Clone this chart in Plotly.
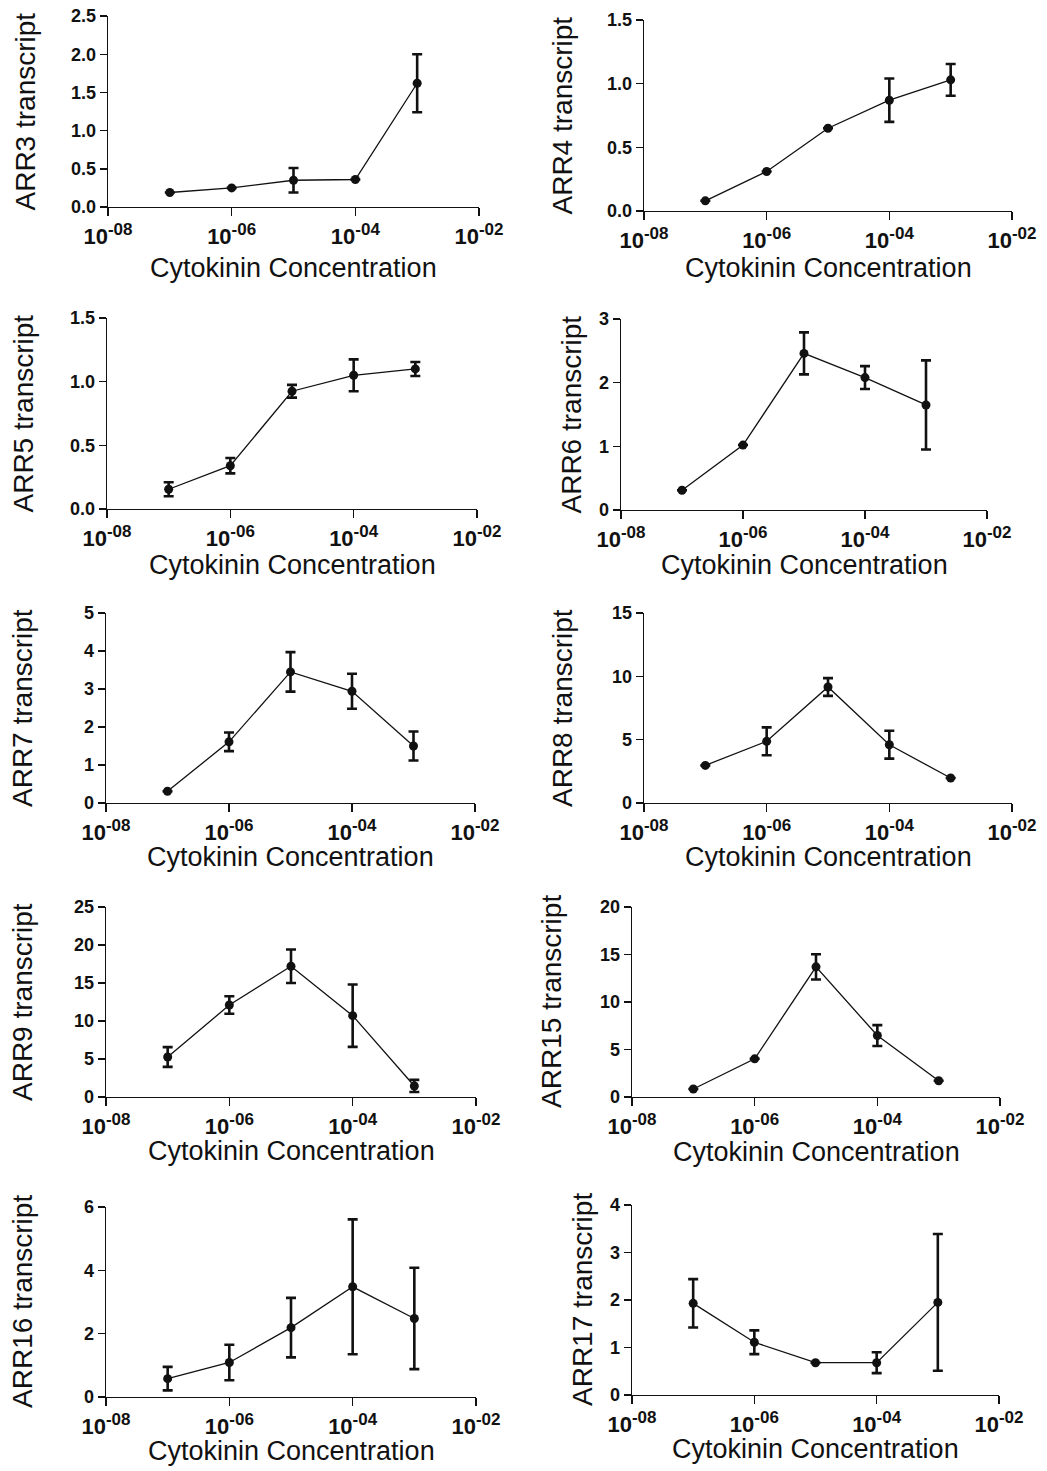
import plotly.graph_objects as go

# ---------------- data ----------------
concentration = [1e-7, 1e-6, 1e-5, 1e-4, 1e-3]

genes = ["ARR3", "ARR4", "ARR5", "ARR6", "ARR7", "ARR8", "ARR9", "ARR15", "ARR16", "ARR17"]

arr3_mean = [0.19, 0.25, 0.35, 0.36, 1.62]
arr3_err = [0.0, 0.0, 0.16, 0.0, 0.38]

arr4_mean = [0.08, 0.31, 0.65, 0.87, 1.03]
arr4_err = [0.0, 0.0, 0.0, 0.17, 0.125]

arr5_mean = [0.155, 0.34, 0.925, 1.05, 1.10]
arr5_err = [0.055, 0.06, 0.05, 0.125, 0.055]

arr6_mean = [0.31, 1.02, 2.46, 2.08, 1.65]
arr6_err = [0.0, 0.0, 0.33, 0.18, 0.70]

arr7_mean = [0.31, 1.61, 3.45, 2.94, 1.50]
arr7_err = [0.0, 0.245, 0.52, 0.46, 0.38]

arr8_mean = [2.97, 4.87, 9.16, 4.60, 1.97]
arr8_err = [0.0, 1.1, 0.7, 1.1, 0.0]

arr9_mean = [5.26, 12.1, 17.2, 10.7, 1.45]
arr9_err = [1.3, 1.15, 2.2, 4.1, 0.8]

arr15_mean = [0.84, 4.02, 13.7, 6.47, 1.71]
arr15_err = [0.0, 0.0, 1.33, 1.1, 0.0]

arr16_mean = [0.58, 1.09, 2.19, 3.48, 2.48]
arr16_err = [0.37, 0.56, 0.94, 2.13, 1.6]

arr17_mean = [1.93, 1.11, 0.68, 0.68, 1.95]
arr17_err = [0.51, 0.25, 0.0, 0.22, 1.44]

y_max = [2.5, 1.5, 1.5, 3, 5, 15, 25, 20, 6, 4]
y_step = [0.5, 0.5, 0.5, 1, 1, 5, 5, 5, 2, 1]

x_tick_vals = [1e-8, 1e-6, 1e-4, 1e-2]
x_tick_exps = ["-08", "-06", "-04", "-02"]
x_tick_labels = ['10<sup><span style="font-size:17px">%s</span></sup>' % e for e in x_tick_exps]

x_title = "Cytokinin Concentration"

means = [arr3_mean, arr4_mean, arr5_mean, arr6_mean, arr7_mean,
         arr8_mean, arr9_mean, arr15_mean, arr16_mean, arr17_mean]
errs = [arr3_err, arr4_err, arr5_err, arr6_err, arr7_err,
        arr8_err, arr9_err, arr15_err, arr16_err, arr17_err]

# ---------------- layout geometry (pixels) ----------------
W, H = 1047, 1471
# (left, right, top, bottom) of each plotting area
boxes = [
    (108, 479, 16, 207), (644, 1012, 20, 211),
    (107, 477, 318, 509), (621, 987, 319, 510),
    (106, 475, 613, 803), (644, 1012, 613, 803),
    (106, 476, 907, 1097), (632, 1000, 907, 1097),
    (106, 476, 1207, 1397), (632, 999, 1205, 1395),
]
ytitle_x = [25, 562, 23, 571, 22, 562, 22, 551, 22, 582]
xtitle_y = [271, 271, 568, 568, 860, 860, 1154, 1155, 1454, 1452]

FONT = "Liberation Sans, Arial, sans-serif"
INK = "#111111"

fig = go.Figure()
layout = dict(
    template="none",
    width=W, height=H,
    margin=dict(l=0, r=0, t=0, b=0, pad=0, autoexpand=False),
    paper_bgcolor="white", plot_bgcolor="white",
    showlegend=False,
    font=dict(family=FONT, color=INK),
)
annotations = []

for i, gene in enumerate(genes):
    n = i + 1
    xa = "x" if n == 1 else f"x{n}"
    ya = "y" if n == 1 else f"y{n}"
    xkey = "xaxis" if n == 1 else f"xaxis{n}"
    ykey = "yaxis" if n == 1 else f"yaxis{n}"
    l, r, t, b = boxes[i]

    fig.add_trace(go.Scatter(
        x=concentration, y=means[i],
        mode="lines+markers",
        line=dict(color=INK, width=1.3),
        marker=dict(color=INK, size=9),
        error_y=dict(type="data", array=errs[i], visible=True,
                     color=INK, thickness=2.6, width=5),
        xaxis=xa, yaxis=ya, cliponaxis=False,
    ))

    layout[xkey] = dict(
        domain=[l / W, r / W], anchor=ya,
        type="log", range=[-8, -2],
        tickvals=x_tick_vals, ticktext=x_tick_labels,
        showline=True, linecolor=INK, linewidth=1.4,
        ticks="outside", ticklen=8, tickwidth=1.4, tickcolor=INK,
        ticklabelstandoff=1,
        showgrid=False, zeroline=False, automargin=False,
        tickfont=dict(family=FONT, size=22, color=INK, weight="bold"),
        fixedrange=True,
    )
    fmt = ".1f" if y_step[i] < 1 else "d"
    layout[ykey] = dict(
        domain=[1 - b / H, 1 - t / H], anchor=xa,
        range=[0, y_max[i]], dtick=y_step[i], tick0=0,
        tickformat=fmt,
        showline=True, linecolor=INK, linewidth=1.4,
        ticks="outside", ticklen=7, tickwidth=1.4, tickcolor=INK,
        showgrid=False, zeroline=False, automargin=False,
        tickfont=dict(family=FONT, size=18, color=INK, weight="bold"),
        fixedrange=True,
    )

    annotations.append(dict(
        text=f"{gene} transcript", textangle=-90,
        xref="paper", yref="paper",
        x=ytitle_x[i] / W, y=1 - ((t + b) / 2) / H,
        xanchor="center", yanchor="middle", showarrow=False,
        font=dict(family=FONT, size=28, color=INK),
    ))
    annotations.append(dict(
        text=x_title,
        xref="paper", yref="paper",
        x=((l + r) / 2) / W, y=1 - (xtitle_y[i] - 3) / H,
        xanchor="center", yanchor="middle", showarrow=False,
        font=dict(family=FONT, size=27, color=INK),
    ))

layout["annotations"] = annotations
fig.update_layout(**layout)
fig.write_html(
    "out.html",
    config={"displayModeBar": False, "staticPlot": True},
    post_script="document.body.style.margin='0';document.body.style.padding='0';",
)
